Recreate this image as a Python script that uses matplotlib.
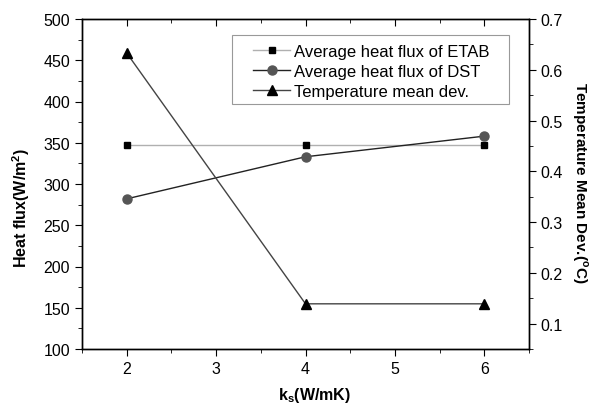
import matplotlib
matplotlib.use("Agg")
import matplotlib.pyplot as plt
from matplotlib.ticker import MultipleLocator
from matplotlib.patches import Rectangle

plt.rcParams['font.family'] = ['Liberation Sans', 'DejaVu Sans']
plt.rcParams['mathtext.fontset'] = 'custom'
plt.rcParams['mathtext.rm'] = 'Liberation Sans'
plt.rcParams['mathtext.bf'] = 'Liberation Sans:bold'

# data
ks = [2, 4, 6]
flux_etab = [347, 347, 347]
flux_dst = [282, 333, 358]
temp_dev = [0.633, 0.139, 0.139]

W, H = 597, 410
fig = plt.figure(figsize=(W / 100, H / 100), dpi=100)
ax1 = fig.add_axes([82 / W, 60 / H, 447 / W, 330 / H])
ax2 = ax1.twinx()

l1, = ax1.plot(ks, flux_etab, '-', color='#b0b0b0', lw=1.0, marker='s',
               mfc='black', mec='black', ms=5, label='Average heat flux of ETAB')
l2, = ax1.plot(ks, flux_dst, '-', color='#222222', lw=1.0, marker='o',
               mfc='#555555', mec='#555555', ms=6.5, label='Average heat flux of DST')
l3, = ax2.plot(ks, temp_dev, '-', color='#444444', lw=1.0, marker='^',
               mfc='black', mec='black', ms=6.5, label='Temperature mean dev.')

ax1.set_xlim(1.5, 6.5)
ax1.set_ylim(100, 500)
ax2.set_ylim(0.05, 0.7)

ax1.xaxis.set_major_locator(MultipleLocator(1))
ax1.xaxis.set_minor_locator(MultipleLocator(0.5))
ax1.yaxis.set_major_locator(MultipleLocator(50))
ax1.yaxis.set_minor_locator(MultipleLocator(25))
ax2.yaxis.set_major_locator(MultipleLocator(0.1))
ax2.yaxis.set_minor_locator(MultipleLocator(0.05))

ax1.tick_params(axis='x', which='both', direction='out', top=True, labeltop=False, labelsize=11.5)
ax1.tick_params(axis='x', which='major', length=5)
ax1.tick_params(axis='x', which='minor', length=3)
ax1.tick_params(axis='y', which='major', direction='out', length=5, labelsize=11.5)
ax1.tick_params(axis='y', which='minor', direction='out', length=3)
ax2.tick_params(axis='y', which='major', direction='out', length=5, labelsize=11.5)
ax2.tick_params(axis='y', which='minor', direction='out', length=3)
# top ticks point inward
for t in ax1.xaxis.get_major_ticks() + ax1.xaxis.get_minor_ticks():
    t.tick2line.set_marker(3)

for ax in (ax1, ax2):
    for s in ax.spines.values():
        s.set_linewidth(1.0)

ax1.set_xlabel(r'k$_{\mathbf{s}}$(W/mK)', fontsize=11.5, fontweight='bold', va='center')
ax1.xaxis.set_label_coords((314 - 82) / 447, -(396 - 350) / 330)
ax1.set_ylabel(r'Heat flux(W/m$^{\mathbf{2}}$)', fontsize=11.5, fontweight='bold', va='center')
ax1.yaxis.set_label_coords(-(82 - 21) / 447, (350 - 208) / 330)
ax2.set_ylabel(r'Temperature Mean Dev.($^{\mathbf{o}}$C)', fontsize=11, fontweight='bold',
               rotation=270, va='center')
ax2.yaxis.set_label_coords((580 - 82) / 447, (350 - 183) / 330)

# legend without own frame; the frame is drawn as a plain rectangle
leg = ax1.legend(handles=[l1, l2, l3], loc='upper left',
                 bbox_to_anchor=((240 - 82) / 447, (350 - 32) / 330),
                 fontsize=12, frameon=False, handlelength=2.2,
                 borderpad=0.3, labelspacing=0.3, handletextpad=0.25)
frame = Rectangle((232 / W, (H - 105) / H), (509 - 232) / W, (105 - 36) / H,
                  transform=fig.transFigure, fill=True, facecolor='white',
                  edgecolor='#999999', lw=0.8, zorder=4)
ax1.add_patch(frame)
frame.set_clip_on(False)
leg.set_zorder(5)

fig.savefig('out.png', dpi=100)
